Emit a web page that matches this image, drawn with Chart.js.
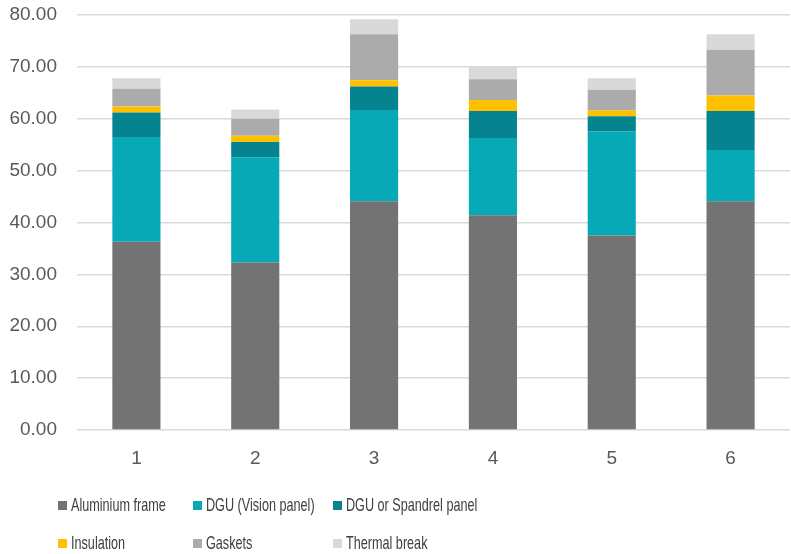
<!DOCTYPE html>
<html>
<head>
<meta charset="utf-8">
<script src="https://cdn.jsdelivr.net/npm/chart.js@4"></script>
<style>
  body { margin: 0; background: #fff; }
  #wrap { position: relative; width: 791px; height: 554px; }
  #legend { position: absolute; left: 0; top: 0; width: 791px; height: 554px; pointer-events: none; }
  .item { position: absolute; display: flex; align-items: center; height: 20px;
          font-family: "Liberation Sans", Arial, sans-serif;
          font-size: 19px; color: #404040; white-space: nowrap; }
  .box { width: 9px; height: 9px; margin-right: 4px; flex: none; }
  .txt { display: inline-block; transform: scaleX(0.665); transform-origin: left center; }
</style>
</head>
<body>
<div id="wrap">
  <canvas id="myChart" width="791" height="554"></canvas>
  <div id="legend"></div>
</div>
<script>
const categories = ['1', '2', '3', '4', '5', '6'];
const seriesNames = ['Aluminium frame', 'DGU (Vision panel)', 'DGU or Spandrel panel', 'Insulation', 'Gaskets', 'Thermal break'];
const aluminiumFrame = [36.3, 32.3, 44.1, 41.4, 37.5, 44.1];
const dguVision = [20.2, 20.3, 17.6, 14.9, 20.1, 9.9];
const dguSpandrel = [4.7, 2.9, 4.5, 5.2, 2.9, 7.5];
const insulation = [1.15, 1.2, 1.2, 2.1, 1.1, 3.0];
const gaskets = [3.45, 3.3, 8.9, 4.0, 4.0, 8.8];
const thermalBreak = [2.0, 1.8, 2.9, 2.4, 2.2, 3.0];
const colors = ['#737373', '#07A9B6', '#05838E', '#FFC000', '#ABABAB', '#D9D9D9'];

const seriesData = [aluminiumFrame, dguVision, dguSpandrel, insulation, gaskets, thermalBreak];

const ctx = document.getElementById('myChart').getContext('2d');
const chart = new Chart(ctx, {
    type: 'bar',
    data: {
        labels: categories,
        datasets: seriesNames.map((name, i) => ({
            label: name,
            data: seriesData[i],
            backgroundColor: colors[i],
            borderWidth: 0,
            categoryPercentage: 1,
            barPercentage: 0.405,
        }))
    },
    options: {
        responsive: false,
        animation: false,
        layout: { padding: { left: 9, right: 1, top: 0, bottom: 0 } },
        plugins: {
            legend: { display: false },
            tooltip: { enabled: false },
        },
        scales: {
            x: {
                stacked: true,
                grid: { display: false },
                border: { display: false },
                ticks: { color: '#595959', padding: 9, font: { family: 'Liberation Sans', size: 19 } },
                afterFit: scale => { scale.height = 124; },
            },
            y: {
                stacked: true,
                min: 0,
                max: 80,
                border: { display: false },
                grid: { color: '#D9D9D9', lineWidth: 1.5, drawTicks: false },
                ticks: {
                    stepSize: 10,
                    padding: 20,
                    color: '#595959',
                    font: { family: 'Liberation Sans', size: 19 },
                    callback: v => v.toFixed(2),
                },
                afterFit: scale => {
                    scale.width = 68;
                    scale.paddingTop = 15;
                    scale.paddingBottom = 0;
                },
            },
        },
    }
});

// legend laid out in two rows of three, like the original
const legend = document.getElementById('legend');
const colX = [58, 193, 333];
const rowY = [495, 533];
seriesNames.forEach((name, i) => {
    const el = document.createElement('div');
    el.className = 'item';
    el.style.left = colX[i % 3] + 'px';
    el.style.top = rowY[Math.floor(i / 3)] + 'px';
    el.innerHTML = '<span class="box" style="background:' + colors[i] + '"></span><span class="txt">' + name + '</span>';
    legend.appendChild(el);
});
</script>
</body>
</html>
